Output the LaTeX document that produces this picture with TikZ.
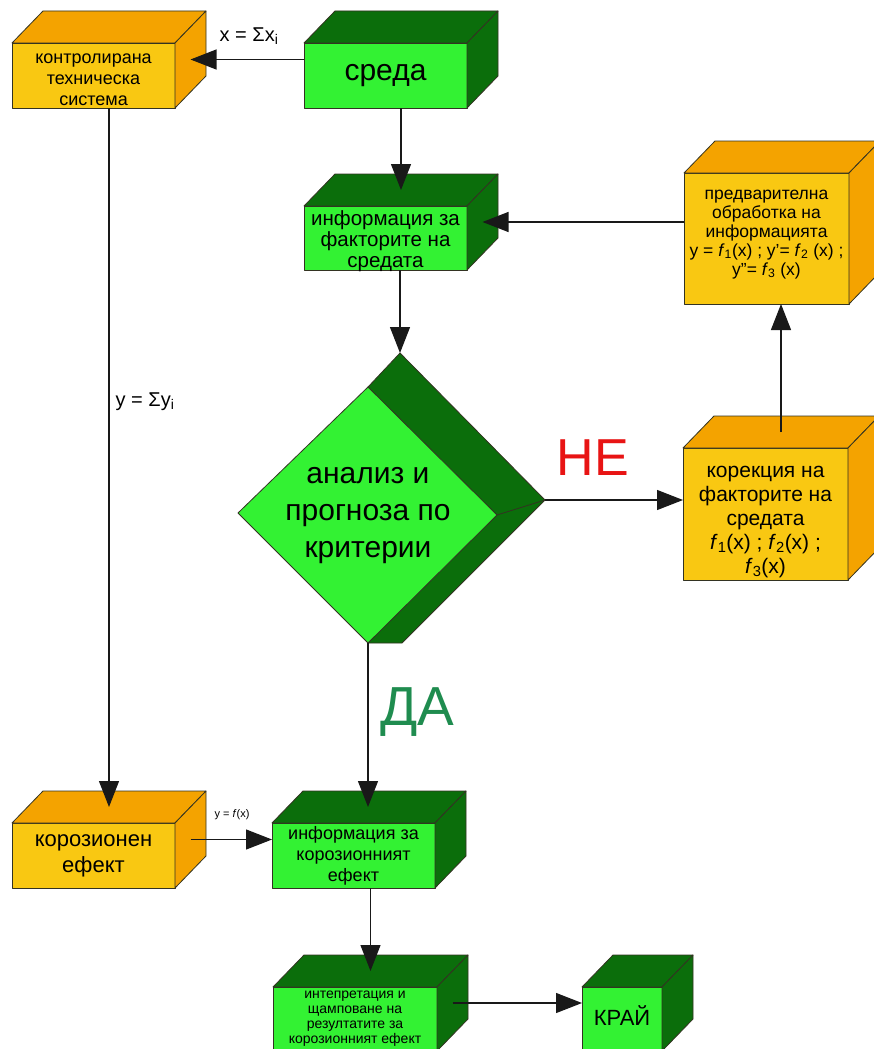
\documentclass[tikz,border=0pt]{standalone}
\usepackage{fontspec}
\setmainfont{Liberation Sans}
\usetikzlibrary{arrows.meta}

\definecolor{boxyellow}{HTML}{F9C812}
\definecolor{boxorange}{HTML}{F4A300}
\definecolor{boxlime}{HTML}{33F233}
\definecolor{boxdark}{HTML}{0B6E0B}
\definecolor{edgecol}{HTML}{333322}
\definecolor{nored}{HTML}{E81414}
\definecolor{yesgreen}{HTML}{1F8C4F}

\tikzset{
  face/.style={draw=edgecol, line width=0.8pt, line join=round},
  frontorange/.style={face, fill=boxyellow, inner sep=0pt, outer sep=0pt},
  sideorange/.style={face, fill=boxorange},
  frontgreen/.style={face, fill=boxlime, inner sep=0pt, outer sep=0pt},
  sidegreen/.style={face, fill=boxdark},
  boxtext/.style={align=center, inner sep=0pt, text=black},
  tag/.style={inner sep=0pt},
  link/.style={draw=black!90, line width=1.2pt, -{Triangle[length=26pt,width=20pt]}},
}

% depth of the extruded boxes
\def\dx{31}
\def\dy{32}

\newcommand\fs[2]{\fontsize{#1}{#2}\selectfont}

% #1 vertical text offset, #2 name, #3 x, #4 y (front top-left), #5 width, #6 height,
% #7 colour scheme (orange/green), #8 font, #9 text
\newcommand\flowcuboid[9][0]{%
  \node[front#7, minimum width=#5pt, minimum height=#6pt, anchor=north west] (#2) at (#3,#4) {};
  \path[side#7] (#2.north west) -- ++(\dx,-\dy) -- ([shift={(\dx,-\dy)}]#2.north east)
       -- (#2.north east) -- cycle;
  \path[side#7] (#2.north east) -- ++(\dx,-\dy) -- ([shift={(\dx,-\dy)}]#2.south east)
       -- (#2.south east) -- cycle;
  \coordinate (#2-top) at ([shift={(\dx/2,-\dy/2)}]#2.north);
  \coordinate (#2-side) at ([shift={(\dx/2,-\dy/2)}]#2.east);
  \node[boxtext, font=#8] (#2-text) at ([yshift=#1pt]#2.center) {#9};
}

\begin{document}
\begin{tikzpicture}[x=1pt, y=-1pt]
  \fill[white] (0,0) rectangle (873,1049);
  \useasboundingbox (0,0) rectangle (873,1049);

  % boxes
  \flowcuboid[-4]{sys}{12}{43}{163}{65}{orange}{\fs{18}{21}}{контролирана\\техническа\\система}
  \flowcuboid{env}{304}{43}{163}{65}{green}{\fs{30}{34}}{среда}
  \flowcuboid[-3]{fact}{304}{206}{163}{64}{green}{\fs{20.5}{21}}{информация за\\факторите на\\средата}
  \flowcuboid[4]{pre}{684}{173}{165}{131}{orange}{\fs{17.5}{19}}{предварителна\\обработка на\\информацията\\
    y = \textit{f}\textsubscript{1}(x) ; y'= \textit{f}\textsubscript{2} (x) ;\\
    y"= \textit{f}\textsubscript{3} (x)}
  \flowcuboid[-8]{corr}{683}{448}{165}{132}{orange}{\fs{21}{24}}{корекция на\\факторите на\\средата\\
    \textit{f}\textsubscript{1}(x) ; \textit{f}\textsubscript{2}(x) ;\\\textit{f}\textsubscript{3}(x)}
  \flowcuboid{eff}{12}{823}{163}{65}{orange}{\fs{22}{26}}{корозионен\\ефект}
  \flowcuboid{res}{272}{823}{163}{65}{green}{\fs{18}{21}}{информация за\\корозионният\\ефект}
  \flowcuboid[0]{interp}{273}{987}{164}{64}{green}{\fs{14}{15}}{интепретация и\\щамповане на\\резултатите за\\корозионният ефект}
  \flowcuboid[3]{end}{582}{987}{80}{64}{green}{\fs{22}{24}}{КРАЙ}

  % decision diamond
  \coordinate (dia-top) at (400,353);
  \coordinate (dia-right) at (545,500);
  \coordinate (dia-bottom) at (368,643);
  \path[sidegreen] (368,387) -- (dia-top) -- (dia-right) -- (402,643) -- (dia-bottom) -- cycle;
  \path[frontgreen] (238,513) -- (368,387) -- (497,515) -- (dia-bottom) -- cycle;
  \draw[face] (497,515) -- (dia-right);
  \node[boxtext, font=\fs{30}{37}] (dia) at (368,516) {анализ и\\прогноза по\\критерии};

  % connectors
  \draw[link] (env.west |- sys-side) -- (sys-side);
  \draw[link] (env.south -| fact-top) -- (fact-top);
  \draw[link] (fact.south -| dia-top) -- (dia-top);
  \draw[link] (pre.west |- fact-side) -- (fact-side);
  \draw[link] (corr-top) -- (corr-top |- pre.south);
  \draw[link] (dia-right) -- (dia-right -| corr.west);
  \draw[link] (dia-bottom) -- (dia-bottom |- res-top);
  \draw[link] (sys.south -| eff-top) -- (eff-top);
  \draw[link] (eff-side) -- (eff-side -| res.west);
  \draw[link] (res.south -| interp-top) -- (interp-top);
  \draw[link] (interp-side) -- (interp-side -| end.west);

  % connector labels
  \node[tag, font=\fs{20}{24}] (xsum) at (249,36) {x = Σx\textsubscript{i}};
  \node[tag, font=\fs{20}{24}] (ysum) at (145,402) {y = Σy\textsubscript{i}};
  \node[tag, font=\fs{11}{13}] (yfx) at (232,815) {y = \textit{f}(x)};
  \node[tag, text=nored, font=\fs{52}{56}] (no) at (593,458) {НЕ};
  \node[tag, text=yesgreen, font=\fs{55}{60}] (yes) at (417,712) {ДА};
\end{tikzpicture}
\end{document}
